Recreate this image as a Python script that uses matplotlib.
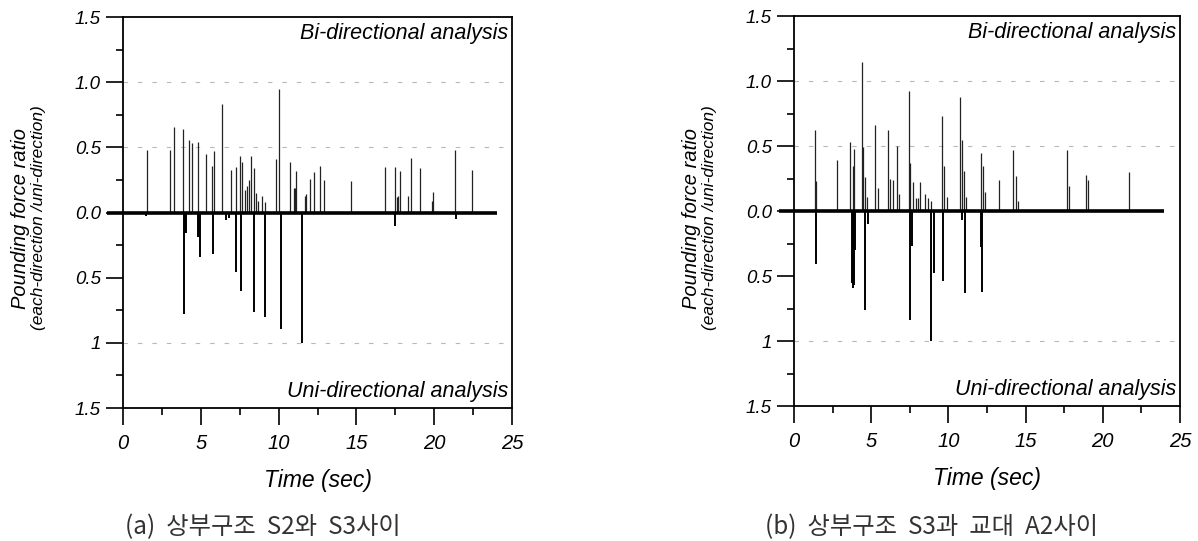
import matplotlib.pyplot as plt
from matplotlib.ticker import FixedLocator, MultipleLocator

plt.rcParams['font.family'] = ['Liberation Sans', 'DejaVu Sans']

# (a) between superstructures S2 and S3
a_pos_t = [1.52, 3.04, 3.25, 3.85, 4.24, 4.45, 4.84, 5.31, 5.70, 5.85, 6.38, 6.96, 7.28,
           7.49, 7.67, 7.84, 7.96, 8.09, 8.24, 8.42, 8.52, 8.66, 8.93, 9.10, 9.85, 10.02,
           10.75, 10.97, 11.06, 11.13, 11.67, 11.78, 11.99, 12.27, 12.68, 12.93, 14.63,
           16.81, 17.49, 17.60, 17.70, 17.77, 18.31, 18.48, 19.08, 19.84, 19.91, 21.33, 22.44]
a_pos_h = [0.48, 0.48, 0.66, 0.64, 0.56, 0.53, 0.54, 0.45, 0.36, 0.47, 0.83, 0.33, 0.35,
           0.43, 0.39, 0.17, 0.20, 0.25, 0.43, 0.34, 0.15, 0.09, 0.13, 0.08, 0.41, 0.95,
           0.39, 0.19, 0.19, 0.32, 0.13, 0.14, 0.26, 0.31, 0.36, 0.25, 0.24,
           0.35, 0.35, 0.12, 0.13, 0.32, 0.13, 0.42, 0.34, 0.09, 0.16, 0.48, 0.33]
a_neg_t = [1.50, 3.92, 3.98, 4.06, 4.80, 4.86, 4.93, 5.78, 6.60, 6.80, 7.24, 7.56, 8.39,
           9.10, 10.17, 11.50, 17.50, 21.40]
a_neg_d = [0.03, 0.78, 0.16, 0.16, 0.19, 0.19, 0.34, 0.32, 0.06, 0.04, 0.46, 0.60, 0.76,
           0.80, 0.89, 1.00, 0.10, 0.05]

# (b) between superstructure S3 and abutment A2
b_pos_t = [1.38, 1.45, 2.81, 3.65, 3.82, 3.91, 4.41, 4.48, 4.60, 4.75, 5.27, 5.42, 6.09,
           6.20, 6.41, 6.66, 6.79, 7.43, 7.50, 7.71, 7.88, 8.00, 8.19, 8.47, 8.69, 8.85,
           9.59, 9.72, 9.88, 10.78, 10.87, 11.02, 11.17, 12.14, 12.25, 12.36, 13.27,
           14.20, 14.37, 14.52, 17.70, 17.83, 18.91, 19.06, 21.69]
b_pos_h = [0.62, 0.23, 0.39, 0.53, 0.35, 0.48, 1.15, 0.49, 0.26, 0.11, 0.66, 0.18, 0.62,
           0.245, 0.24, 0.50, 0.13, 0.92, 0.37, 0.22, 0.10, 0.10, 0.22, 0.13, 0.10, 0.08,
           0.73, 0.35, 0.11, 0.88, 0.55, 0.31, 0.11, 0.45, 0.35, 0.15, 0.24,
           0.47, 0.27, 0.08, 0.47, 0.19, 0.28, 0.24, 0.30]
b_neg_t = [1.45, 3.78, 3.84, 3.90, 3.96, 4.58, 4.80, 7.50, 7.62, 8.90, 9.05, 9.66, 10.85,
           11.06, 12.10, 12.20]
b_neg_d = [0.41, 0.55, 0.59, 0.57, 0.30, 0.76, 0.10, 0.84, 0.27, 1.00, 0.48, 0.54, 0.07,
           0.63, 0.28, 0.62]

panels = [
    ([0.1027, 0.2458, 0.3247, 0.7227], a_pos_t, a_pos_h, a_neg_t, a_neg_d, 24.05,
     '(a)  상부구조  S2와  S3사이', 0.2195),
    ([0.6628, 0.2495, 0.3222, 0.7209], b_pos_t, b_pos_h, b_neg_t, b_neg_d, 23.96,
     '(b)  상부구조  S3과  교대  A2사이', 0.778),
]

y_ticks = [-1.5, -1.0, -0.5, 0.0, 0.5, 1.0, 1.5]
y_labels = ['1.5', '1', '0.5', '0.0', '0.5', '1.0', '1.5']

fig = plt.figure(figsize=(11.98, 5.41), dpi=100)

for rect, pt, ph, nt, nd, t_end, caption, cx in panels:
    ax = fig.add_axes(rect)
    for g in [0.5, 1.0, -1.0]:
        ax.axhline(g, color='#b8b8b8', lw=0.8, ls=(0, (4, 9)), zorder=1)
    ax.vlines(pt, 0, ph, color='#222222', lw=0.9, zorder=3)
    ax.vlines(nt, 0, [-d for d in nd], color='k', lw=1.4, zorder=3)
    ax.hlines(0, -1.0, t_end, color='k', lw=2.6, zorder=4, clip_on=False)

    ax.set_xlim(0, 25)
    ax.set_ylim(-1.5, 1.5)
    ax.xaxis.set_major_locator(MultipleLocator(5))
    ax.xaxis.set_minor_locator(MultipleLocator(2.5))
    ax.yaxis.set_major_locator(FixedLocator(y_ticks))
    ax.yaxis.set_minor_locator(FixedLocator([-1.25, -0.75, -0.25, 0.25, 0.75, 1.25]))
    ax.set_yticklabels(y_labels)

    ax.tick_params(axis='both', which='major', direction='out', length=12, width=1.2)
    ax.tick_params(axis='both', which='minor', direction='out', length=5, width=1.2)
    ax.tick_params(axis='y', which='major', labelsize=13.5, pad=4)
    ax.tick_params(axis='x', which='major', labelsize=14.5, pad=7)
    for lab in ax.get_xticklabels() + ax.get_yticklabels():
        lab.set_fontstyle('italic')
    for s in ax.spines.values():
        s.set_linewidth(1.3)

    ax.text(0.99, 0.959, 'Bi-directional analysis', transform=ax.transAxes,
            ha='right', va='center', fontsize=15.5, style='italic')
    ax.text(0.99, 0.043, 'Uni-directional analysis', transform=ax.transAxes,
            ha='right', va='center', fontsize=15.5, style='italic')

    ax.set_xlabel('Time (sec)', fontsize=16.5, style='italic', labelpad=11)

    x0 = rect[0] * 1198
    fig.text((x0 - 103) / 1198, 0.597, 'Pounding force ratio', rotation=90,
             ha='center', va='center', fontsize=14.5, style='italic')
    fig.text((x0 - 85) / 1198, 0.597, '(each-direction /uni-direction)', rotation=90,
             ha='center', va='center', fontsize=12.5, style='italic')

    fig.text(cx, 0.026, caption, ha='center', va='center', fontsize=17.5,
             color='#333333', family=['Noto Sans CJK KR', 'DejaVu Sans'])

fig.savefig('out.png', dpi=100)
